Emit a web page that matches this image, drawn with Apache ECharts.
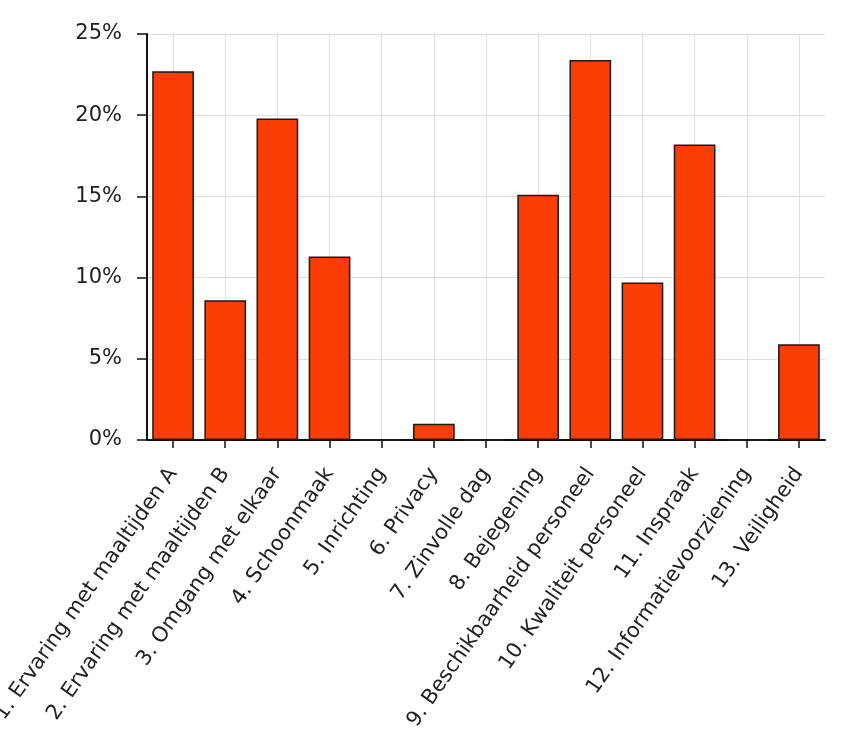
<!DOCTYPE html>
<html>
<head>
<meta charset="utf-8">
<script src="https://cdn.jsdelivr.net/npm/echarts@6/dist/echarts.min.js"></script>
<style>
html,body{margin:0;padding:0;background:#fff;}
#chart{width:844px;height:739px;}
</style>
</head>
<body>
<div id="chart"></div>
<script>
const categories = [
  "1. Ervaring met maaltijden A",
  "2. Ervaring met maaltijden B",
  "3. Omgang met elkaar",
  "4. Schoonmaak",
  "5. Inrichting",
  "6. Privacy",
  "7. Zinvolle dag",
  "8. Bejegening",
  "9. Beschikbaarheid personeel",
  "10. Kwaliteit personeel",
  "11. Inspraak",
  "12. Informatievoorziening",
  "13. Veiligheid"
];
const values = [22.7, 8.6, 19.8, 11.3, 0, 1.0, 0, 15.1, 23.4, 9.7, 18.2, 0, 5.9];
const yTicks = [0, 5, 10, 15, 20, 25];

const chart = echarts.init(document.getElementById('chart'), null, {renderer: 'canvas'});
chart.setOption({
  animation: false,
  backgroundColor: '#ffffff',
  grid: {left: 147, right: 19, top: 34, bottom: 299, containLabel: false, outerBoundsMode: 'none'},
  xAxis: {
    type: 'category',
    data: categories,
    boundaryGap: true,
    axisLine: {show: true, lineStyle: {color: '#111', width: 2}},
    axisTick: {show: true, alignWithLabel: true, length: 8, lineStyle: {color: '#111', width: 1.5}},
    axisLabel: {
      interval: 0, rotate: 55, margin: 30, hideOverlap: false,
      fontFamily: 'DejaVu Sans', fontSize: 21, color: '#222'
    },
    splitLine: {show: true, alignWithLabel: true, lineStyle: {color: '#e0e0e0', width: 1}}
  },
  yAxis: {
    type: 'value',
    min: yTicks[0], max: yTicks[yTicks.length - 1], interval: 5,
    axisLine: {show: true, lineStyle: {color: '#111', width: 2}},
    axisTick: {show: true, length: 10, lineStyle: {color: '#111', width: 1.5}},
    axisLabel: {
      margin: 25, formatter: v => v + '%',
      fontFamily: 'DejaVu Sans', fontSize: 21, color: '#222'
    },
    splitLine: {show: true, lineStyle: {color: '#e0e0e0', width: 1}}
  },
  series: [{
    type: 'bar',
    data: values,
    barCategoryGap: '20%',
    itemStyle: {color: '#fa3c05', borderColor: '#1a1a1a', borderWidth: 1.5}
  }]
});
</script>
</body>
</html>
